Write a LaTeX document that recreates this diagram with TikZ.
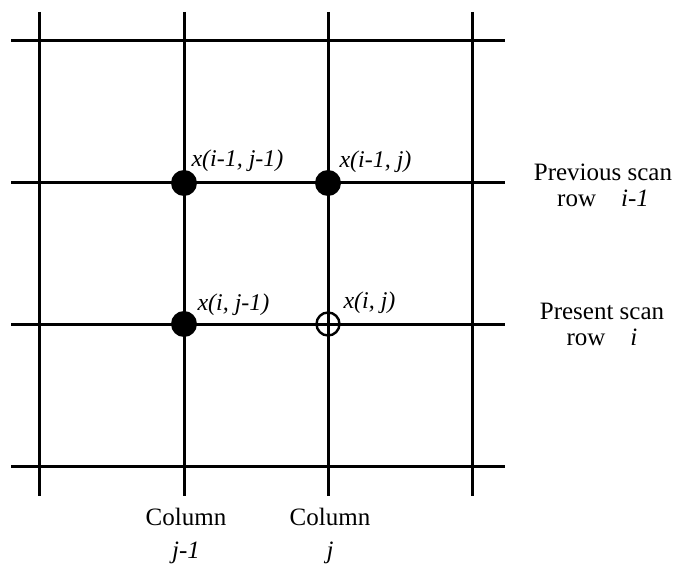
\documentclass[tikz,border=0pt]{standalone}
\usepackage{fontspec}
\setmainfont{Liberation Serif}
\usepackage{tikz}

\begin{document}
\begin{tikzpicture}[x=1pt,y=-1pt,line width=3pt,font=\fontsize{25}{26}\selectfont,
  fullpt/.style={circle,fill,inner sep=0pt,minimum size=26pt},
  openpt/.style={circle,draw,line width=2.4pt,inner sep=0pt,minimum size=23pt},
  lbl/.style={anchor=west,inner sep=0pt,font=\fontsize{24}{25}\selectfont\itshape},
  side/.style={align=center,inner sep=0pt}]
\useasboundingbox (0,0) rectangle (675,567);
% grid
\foreach \x in {39,184,328,472} \draw (\x,12)--(\x,496);
\foreach \y in {41,183,324,466} \draw (11,\y)--(505,\y);
% pixels
\node[fullpt](a) at (184,183){};
\node[fullpt](b) at (328,183){};
\node[fullpt](c) at (184,324){};
\node[openpt](d) at (328,324){};
\node[lbl](la) at (190,161){x(i-1, j-1)};
\node[lbl](lb) at (338,162){x(i-1, j)};
\node[lbl](lc) at (196,305){x(i, j-1)};
\node[lbl](ld) at (342,303){x(i, j)};
% rows and columns
\node[side](prev) at (603,185){Previous scan\\row\quad\textit{i-1}};
\node[side](pres) at (602,324){Present scan\\row\quad\textit{i}};
\node[side](colm) at (186,536){Column\\[7pt]\textit{j-1}};
\node[side](colj) at (330,536){Column\\[7pt]\textit{j}};
\end{tikzpicture}
\end{document}
